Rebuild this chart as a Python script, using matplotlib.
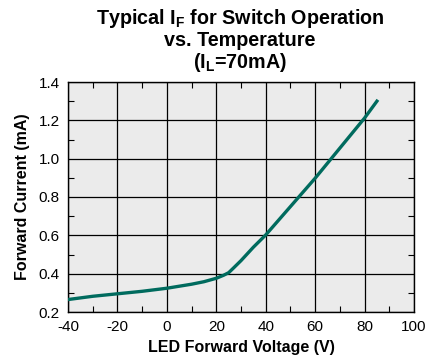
import matplotlib
matplotlib.use("Agg")
import matplotlib.pyplot as plt
from matplotlib.ticker import MultipleLocator

plt.rcParams["font.family"] = ["Liberation Sans", "DejaVu Sans"]
plt.rcParams["mathtext.fontset"] = "custom"
plt.rcParams["mathtext.rm"] = "Liberation Sans:bold"
plt.rcParams["mathtext.bf"] = "Liberation Sans:bold"

# Typical switching current vs. temperature
temperature = [-40, -30, -20, -10, 0, 10, 15, 20, 23, 25, 27, 30, 35, 40,
               50, 60, 70, 80, 85]
forward_current = [0.265, 0.282, 0.295, 0.308, 0.324, 0.345, 0.358, 0.376, 0.392,
                   0.405, 0.430, 0.468, 0.538, 0.602, 0.750, 0.898, 1.055, 1.212, 1.300]

x_ticks = [-40, -20, 0, 20, 40, 60, 80, 100]
y_ticks = [0.2, 0.4, 0.6, 0.8, 1.0, 1.2, 1.4]

LINE = "#006b5e"
PANEL = "#ebebeb"

fig = plt.figure(figsize=(4.25, 3.6), dpi=100)
ax = fig.add_axes([68 / 425, 1 - 312 / 360, 346 / 425, 230 / 360])
ax.set_facecolor(PANEL)

ax.plot(temperature, forward_current, color=LINE, lw=2.4, solid_joinstyle="round", zorder=3)

ax.set_xlim(-40, 100)
ax.set_ylim(0.2, 1.4)
ax.set_xticks(x_ticks)
ax.set_yticks(y_ticks)
ax.set_xticklabels([str(t) for t in x_ticks])
ax.set_yticklabels([f"{t:.1f}" for t in y_ticks])
ax.xaxis.set_minor_locator(MultipleLocator(10))
ax.yaxis.set_minor_locator(MultipleLocator(0.1))
ax.tick_params(which="major", length=0, labelsize=11, pad=6)
ax.tick_params(which="minor", direction="in", length=4, width=0.8,
               top=True, right=True, bottom=True, left=True)
ax.grid(which="major", color="black", lw=0.9, zorder=1)
for s in ax.spines.values():
    s.set_linewidth(1.0)

ax.set_xlabel("LED Forward Voltage (V)", fontsize=11.5, fontweight="bold", labelpad=4)
ax.set_ylabel("Forward Current (mA)", fontsize=11.5, fontweight="bold", labelpad=6)

fig.text(0.565, 1 - 18 / 360, r"Typical $\mathbf{I_F}$ for Switch Operation",
         ha="center", va="center", fontsize=14.2, fontweight="bold")
fig.text(0.565, 1 - 40 / 360, "vs. Temperature",
         ha="center", va="center", fontsize=14.2, fontweight="bold")
fig.text(0.565, 1 - 62 / 360, r"($\mathbf{I_L}$=70mA)",
         ha="center", va="center", fontsize=14.2, fontweight="bold")

fig.savefig("out.png", dpi=100)
